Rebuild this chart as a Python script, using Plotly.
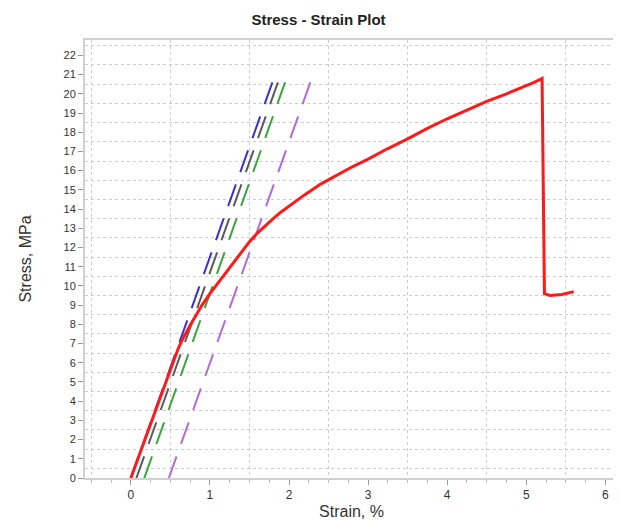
import plotly.graph_objects as go

# Measured stress-strain curve (strain %, stress MPa)
strain = [0.0, 0.15, 0.3, 0.45, 0.5, 0.55, 0.6, 0.65, 0.7, 0.75, 0.8, 0.9, 1.0, 1.1,
          1.2, 1.3, 1.4, 1.5, 1.6, 1.7, 1.8, 1.9, 2.0, 2.2, 2.4, 2.6, 2.8, 3.0, 3.25,
          3.5, 3.75, 4.0, 4.25, 4.5, 4.75, 5.0, 5.1, 5.2, 5.23, 5.3, 5.45, 5.6]
stress = [0.0, 1.7, 3.4, 5.1, 5.7, 6.25, 6.75, 7.2, 7.6, 7.95, 8.3, 9.0, 9.6, 10.15,
          10.7, 11.25, 11.8, 12.3, 12.75, 13.15, 13.5, 13.85, 14.15, 14.75, 15.3, 15.75,
          16.2, 16.6, 17.15, 17.65, 18.2, 18.7, 19.15, 19.6, 20.0, 20.4, 20.6, 20.8,
          9.6, 9.5, 9.55, 9.7]

# Modulus (offset) lines: start strain, end strain, start/end stress
offset_names = ["Modulus", "Offset 1", "Offset 2", "Offset 3"]
offset_x0 = [0.0, 0.07, 0.17, 0.48]
offset_x1 = [1.79, 1.86, 1.95, 2.27]
offset_y0 = [0.0, 0.0, 0.0, 0.0]
offset_y1 = [20.6, 20.6, 20.6, 20.6]
offset_colors = ["#3b2fd6", "#5a5a5a", "#3aa63a", "#b36ad6"]

x_ticks = [0, 1, 2, 3, 4, 5, 6]
y_ticks = list(range(0, 23))
x_grid = [-0.5, 0.5, 1.5, 2.5, 3.5, 4.5, 5.5]
y_grid = [v + 0.5 for v in range(0, 23)]

fig = go.Figure()

for name, x0, x1, y0, y1, c in zip(offset_names, offset_x0, offset_x1, offset_y0, offset_y1, offset_colors):
    fig.add_trace(go.Scatter(x=[x0, x1], y=[y0, y1], mode="lines", name=name,
                             line=dict(color=c, width=2, dash="23px,13.1px"),
                             showlegend=False))

fig.add_trace(go.Scatter(x=strain, y=stress, mode="lines", name="Stress",
                         line=dict(color="#ff1a1a", width=3), showlegend=False))

# invisible trace on overlay axes carrying the half-unit gridlines
fig.add_trace(go.Scatter(x=[None], y=[None], xaxis="x2", yaxis="y2", showlegend=False))

xr = [-0.58, 6.16]
yr = [0, 22.8]
FONT = "Liberation Sans, Arial, sans-serif"

fig.update_layout(
    width=621, height=521,
    margin=dict(l=77, r=11, t=32, b=51),
    paper_bgcolor="white", plot_bgcolor="white",
    title=dict(text="<b>Stress - Strain Plot</b>", x=0.5, xref="container", xanchor="center",
               y=0.977, yref="container", yanchor="middle",
               font=dict(family=FONT, size=15, color="#222")),
    xaxis=dict(range=xr, tickvals=x_ticks, ticktext=[str(v) for v in x_ticks],
               showgrid=False, zeroline=False, ticks="outside", ticklen=5, tickcolor="#999",
               showline=True, linecolor="#d0d0d0", linewidth=2, mirror=True, automargin=False,
               tickfont=dict(family=FONT, size=12, color="#333"),
               minor=dict(dtick=0.25, tick0=0, ticks="outside", ticklen=3, tickcolor="#bbb", showgrid=False),
               title=dict(text="Strain, %", standoff=4,
                          font=dict(family=FONT, size=16, color="#333"))),
    yaxis=dict(range=yr, tickvals=y_ticks, ticktext=[str(v) for v in y_ticks],
               showgrid=False, zeroline=False, ticks="outside", ticklen=5, tickcolor="#999",
               showline=True, linecolor="#d0d0d0", linewidth=2, mirror=True, automargin=False,
               tickfont=dict(family=FONT, size=11, color="#333"),
               title=dict(text="Stress, MPa", standoff=28,
                          font=dict(family=FONT, size=16, color="#333"))),
    xaxis2=dict(range=xr, overlaying="x", tickvals=x_grid, showticklabels=False, ticks="",
                showgrid=True, gridcolor="#cccccc", griddash="dot", gridwidth=1, zeroline=False),
    yaxis2=dict(range=yr, overlaying="y", tickvals=y_grid, showticklabels=False, ticks="",
                showgrid=True, gridcolor="#cccccc", griddash="dot", gridwidth=1, zeroline=False),
)

fig.write_html("out.html")
